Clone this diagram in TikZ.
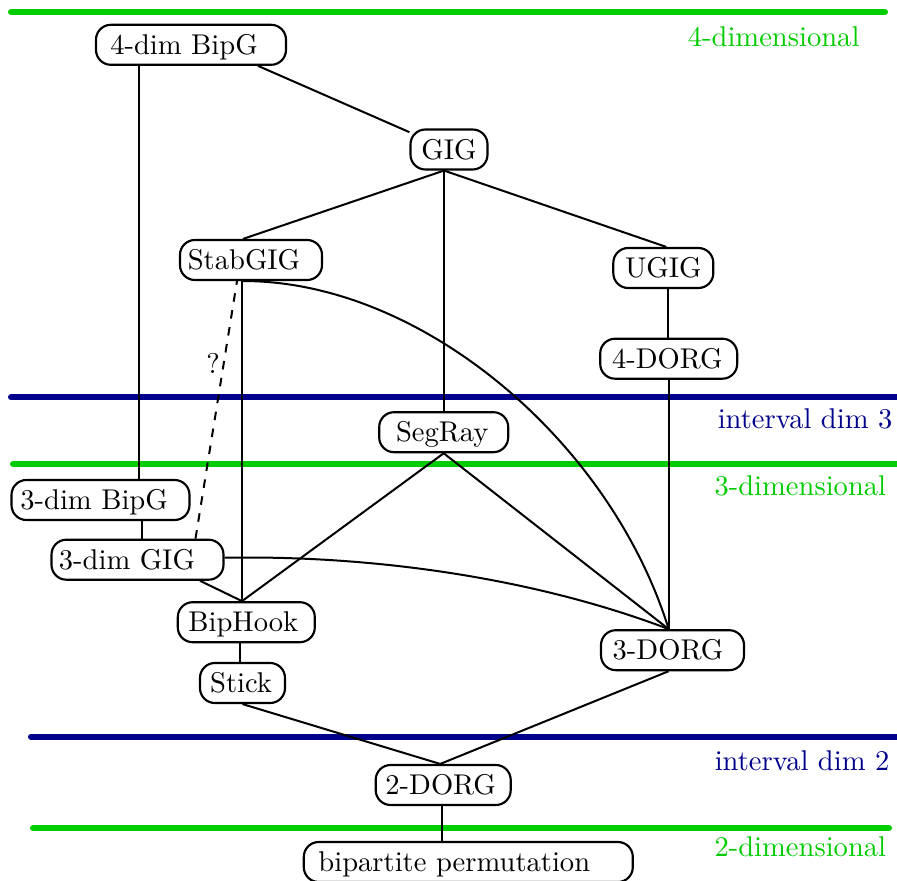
\documentclass[tikz,border=0pt]{standalone}
\usetikzlibrary{calc}
\definecolor{lgreen}{RGB}{0,204,0}
\definecolor{lblue}{RGB}{0,0,140}
\begin{document}
\begin{tikzpicture}[x=0.35pt,y=-0.35pt,
  cls/.style={draw, rounded corners=5.2pt, fill=white, line width=0.75pt, inner xsep=0pt, inner ysep=2.1pt, text height=8.3pt, text depth=1.5pt, minimum width=#1*0.35pt, font=\fontsize{10}{12}\selectfont},
  conn/.style={line width=0.7pt},
  gline/.style={line width=2.1pt, lgreen, line cap=round},
  bline/.style={line width=2.1pt, lblue, line cap=round},
  glabel/.style={anchor=base east, text=lgreen, inner sep=0pt, font=\fontsize{10}{12}\selectfont},
  blabel/.style={anchor=base east, text=lblue, inner sep=0pt, font=\fontsize{10}{12}\selectfont}]
\useasboundingbox (0,0) rectangle (897,881);

% level lines
\draw[gline] (11,12) -- (885,12);
\draw[bline] (11,397.3) -- (897,397.3);
\draw[gline] (13,464) -- (897,464);
\draw[bline] (31,736.7) -- (897,736.7);
\draw[gline] (33,828.3) -- (889,828.3);

\node[glabel] (l4) at (860,46.7) {4-dimensional};
\node[blabel] (li3) at (893,428.3) {interval dim 3};
\node[glabel] (l3) at (886.7,495) {3-dimensional};
\node[blabel] (li2) at (890,770) {interval dim 2};
\node[glabel] (l2) at (886.7,856.7) {2-dimensional};

% nodes
\node[cls=190] (bip4) at (191,44.8) {4-dim BipG\kern4.9pt};
\node[cls=77] (gig) at (449,149.5) {GIG};
\node[cls=142] (stab) at (251,260) {StabGIG\kern4.9pt};
\node[cls=100] (ugig) at (663.3,268) {UGIG};
\node[cls=137] (dorg4) at (668.7,358.7) {4-DORG\kern1pt};
\node[cls=129] (seg) at (443.7,432.2) {SegRay\kern1pt};
\node[cls=178] (bip3) at (100.5,500) {3-dim BipG\kern4.5pt};
\node[cls=172] (gig3) at (137.5,559.7) {3-dim GIG\kern7.4pt};
\node[cls=137] (hook) at (246.3,622.2) {BipHook\kern2.1pt};
\node[cls=85] (stick) at (242.5,683) {Stick\kern1pt};
\node[cls=143] (dorg3) at (672.5,650.2) {3-DORG\kern3.2pt};
\node[cls=135] (dorg2) at (443.2,785) {2-DORG\kern1.8pt};
\node[cls=329] (perm) at (468.3,862) {bipartite permutation\kern9.8pt};

% connection points
\coordinate (e1) at ($(bip4.south)+(-52,0)$);
\coordinate (gs) at ($(gig.south)+(-5,0)$);
\coordinate (e6) at ($(ugig.south)+(5,0)$);
\coordinate (d3t) at (dorg4.south |- dorg3.north);
\coordinate (sb) at ($(stab.south)+(-9,0)$);
\coordinate (ht) at (sb |- hook.north);
\coordinate (e12) at ($(bip3.south)+(41,0)$);
\coordinate (e16) at ($(hook.south)+(-6,0)$);
\coordinate (d2t) at ($(dorg2.north)+(-3,0)$);
\coordinate (e19) at ($(dorg2.south)+(-1.5,0)$);

% edges
\draw[conn] (e1) -- (e1 |- bip3.north);
\draw[conn] ($(bip4.south)+(67,0)$) -- (gig);
\draw[conn] (gs) -- ($(stab.north)+(-8,0)$);
\draw[conn] (gs) -- (gs |- seg.north);
\draw[conn] (gs) -- ($(ugig.north)+(3,0)$);
\draw[conn] (e6) -- (e6 |- dorg4.north);
\draw[conn] (dorg4.south) -- (d3t);
\draw[conn] (sb) -- (ht);
\draw[conn] (sb) .. controls (420,280) and (610,440) .. (d3t);
\draw[conn] (seg.south) -- (ht);
\draw[conn] (seg.south) -- (d3t);
\draw[conn] (e12) -- (e12 |- gig3.north);
\draw[conn, dashed] ($(gig3.north)+(58,0)$) -- node[pos=0.68, left, inner sep=1pt, font=\fontsize{10}{12}\selectfont] (q) {?} ($(stab.south)+(-14,0)$);
\draw[conn] ($(gig3.east)+(0,-2)$) .. controls (380,555) and (540,580) .. (d3t);
\draw[conn] ($(gig3.south)+(62.5,0)$) -- (ht);
\draw[conn] (e16) -- (e16 |- stick.north);
\draw[conn] (stick.south) -- (d2t);
\draw[conn] ($(dorg3.south)+(-4,0)$) -- (d2t);
\draw[conn] (e19) -- (e19 |- perm.north);
\end{tikzpicture}
\end{document}
